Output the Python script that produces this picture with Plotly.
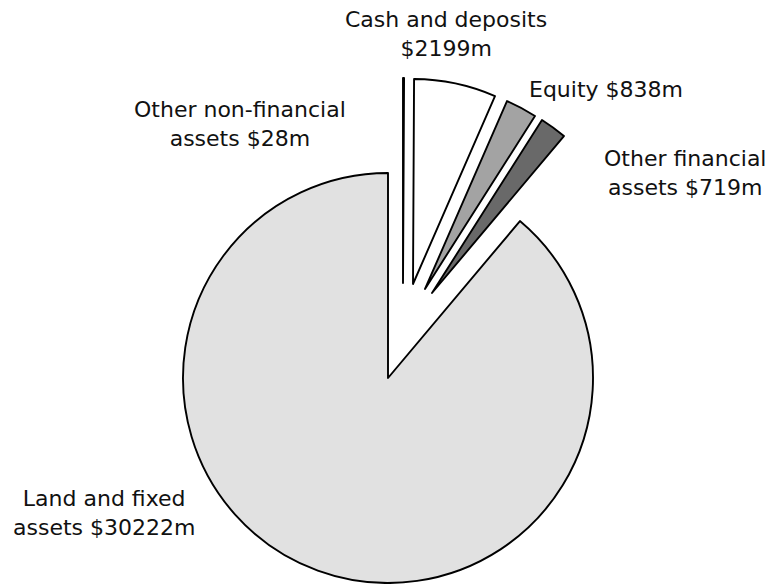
import plotly.graph_objects as go

# Asset composition (millions of dollars), clockwise from 12 o'clock
categories = [
    "Other non-financial assets",
    "Cash and deposits",
    "Equity",
    "Other financial assets",
    "Land and fixed assets",
]
values = [28, 2199, 838, 719, 30222]
label_text = [
    "Other non-financial<br>assets $28m",
    "Cash and deposits<br>$2199m",
    "Equity $838m",
    "Other financial<br>assets $719m",
    "Land and fixed<br>assets $30222m",
]
fills = ["#ffffff", "#ffffff", "#a3a3a3", "#696969", "#e1e1e1"]

W, H = 771, 584
R = 205  # pie radius in px

# Pie centre for each slice (px); small slices are exploded outward
centres = [(403, 283), (413, 284), (425, 289), (432, 293), (388, 378)]
# Label anchor points (px)
label_pos = [(240, 124), (446, 34), (606, 89), (685, 173), (104, 513)]

fig = go.Figure()
for i, (cx, cy) in enumerate(centres):
    colors = ["rgba(0,0,0,0)"] * len(values)
    widths = [0] * len(values)
    colors[i] = fills[i]
    widths[i] = 1.9
    fig.add_trace(go.Pie(
        labels=categories,
        values=values,
        sort=False,
        direction="clockwise",
        rotation=0,
        textinfo="none",
        hoverinfo="skip",
        showlegend=False,
        marker=dict(colors=colors, line=dict(color="#000000", width=widths)),
        domain=dict(
            x=[(cx - R) / W, (cx + R) / W],
            y=[1 - (cy + R) / H, 1 - (cy - R) / H],
        ),
    ))

for txt, (lx, ly) in zip(label_text, label_pos):
    fig.add_annotation(
        text=txt,
        x=lx / W, y=1 - ly / H,
        xref="paper", yref="paper",
        xanchor="center", yanchor="middle",
        align="center",
        showarrow=False,
        font=dict(family="DejaVu Sans", size=22, color="#111111"),
    )

fig.update_layout(
    width=W, height=H,
    margin=dict(l=0, r=0, t=0, b=0),
    paper_bgcolor="#ffffff",
    plot_bgcolor="#ffffff",
)

fig.write_html("out.html")
